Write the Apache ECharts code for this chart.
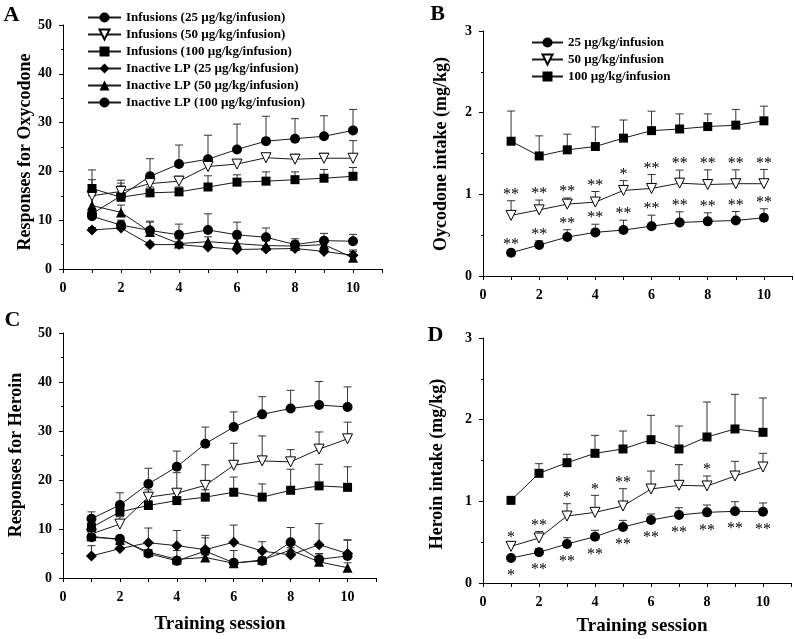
<!DOCTYPE html>
<html>
<head>
<meta charset="utf-8">
<script src="https://cdn.jsdelivr.net/npm/echarts@6/dist/echarts.min.js"></script>
<style>html,body{margin:0;padding:0;background:#fff}#c{width:795px;height:639px}</style>
</head>
<body>
<div id="c"></div>
<script>
// ---------- data ----------
const sessions = [1, 2, 3, 4, 5, 6, 7, 8, 9, 10];
const xTickLabels = [0, 2, 4, 6, 8, 10];

// Panel A: responses for oxycodone
const A_inf25 = [11.3, 15.0, 19.0, 21.5, 22.5, 24.5, 26.2, 26.7, 27.2, 28.4];
const A_inf25_err = [9.0, 3.2, 3.6, 3.9, 4.9, 5.2, 5.1, 4.1, 4.2, 4.3];
const A_inf50 = [15.0, 15.9, 17.5, 18.0, 21.0, 21.5, 22.8, 22.5, 22.7, 22.7];
const A_inf50_err = [1.2, 1.7, 0.8, 1.0, 1.0, 0.8, 0.8, 1.0, 1.0, 3.6];
const A_inf100 = [16.5, 14.7, 15.6, 15.8, 16.8, 17.8, 18.0, 18.3, 18.6, 19.0];
const A_inf100_err = [1.8, 2.3, 1.2, 1.0, 2.3, 1.5, 1.9, 1.6, 1.8, 1.8];
const A_lp25 = [8.0, 8.4, 5.0, 5.0, 4.5, 4.0, 4.1, 4.2, 3.6, 2.8];
const A_lp25_err = [0.5, 0.5, 0.5, 0.5, 0.5, 0.5, 0.5, 0.5, 0.5, 1.1];
const A_lp50 = [13.0, 11.6, 7.6, 5.2, 5.6, 5.2, 4.8, 4.7, 5.0, 2.3];
const A_lp50_err = [2.0, 1.5, 2.0, 1.0, 1.0, 1.0, 1.0, 1.0, 1.0, 1.3];
const A_lp100 = [10.8, 9.0, 7.9, 7.0, 8.0, 7.0, 6.5, 5.0, 5.8, 5.7];
const A_lp100_err = [1.5, 1.0, 1.9, 2.2, 3.3, 2.6, 1.9, 1.2, 1.5, 1.4];

// Panel B: oxycodone intake
const B_25 = [0.285, 0.38, 0.477, 0.534, 0.563, 0.61, 0.656, 0.669, 0.68, 0.713];
const B_25_err = [0.02, 0.05, 0.09, 0.10, 0.12, 0.135, 0.13, 0.105, 0.11, 0.11];
const B_50 = [0.742, 0.81, 0.88, 0.905, 1.048, 1.072, 1.137, 1.12, 1.13, 1.13];
const B_50_err = [0.18, 0.12, 0.075, 0.13, 0.12, 0.17, 0.16, 0.18, 0.17, 0.175];
const B_100 = [1.65, 1.47, 1.545, 1.586, 1.688, 1.78, 1.8, 1.83, 1.847, 1.9];
const B_100_err = [0.37, 0.246, 0.192, 0.24, 0.222, 0.238, 0.185, 0.155, 0.193, 0.18];
const B_25_stars = ['**', '**', '**', '**', '**', '**', '**', '**', '**', '**'];
const B_50_stars = ['**', '**', '**', '**', '*', '**', '**', '**', '**', '**'];

// Panel C: responses for heroin
const C_inf25 = [12.1, 14.9, 19.2, 22.7, 27.4, 30.8, 33.4, 34.6, 35.3, 34.9];
const C_inf25_err = [1.4, 2.5, 3.2, 3.2, 3.4, 3.1, 3.6, 3.7, 4.8, 4.1];
const C_inf50 = [9.0, 11.0, 16.5, 17.3, 18.9, 23.0, 23.9, 23.7, 26.3, 28.4];
const C_inf50_err = [1.0, 1.5, 1.5, 4.2, 4.2, 4.5, 5.1, 2.5, 3.5, 3.4];
const C_inf100 = [10.3, 13.5, 14.8, 15.8, 16.5, 17.5, 16.5, 17.9, 18.8, 18.5];
const C_inf100_err = [1.0, 1.0, 1.0, 1.5, 1.5, 3.1, 2.7, 4.3, 4.4, 4.2];
const C_lp25 = [4.5, 6.0, 7.2, 6.6, 5.8, 7.3, 5.5, 4.7, 6.8, 5.0];
const C_lp25_err = [2.1, 0.8, 3.0, 3.1, 2.9, 3.5, 1.9, 1.0, 4.3, 2.8];
const C_lp50 = [8.5, 7.8, 5.3, 3.8, 4.2, 3.0, 3.7, 5.7, 3.3, 2.1];
const C_lp50_err = [0.5, 0.5, 0.5, 0.5, 0.5, 0.5, 0.5, 0.5, 1.6, 1.0];
const C_lp100 = [8.3, 8.0, 5.0, 3.5, 5.5, 3.1, 3.5, 7.3, 3.8, 4.5];
const C_lp100_err = [0.5, 0.5, 0.8, 2.1, 2.7, 2.5, 0.8, 3.0, 1.2, 3.2];

// Panel D: heroin intake
const D_25 = [0.306, 0.376, 0.478, 0.567, 0.686, 0.771, 0.833, 0.865, 0.878, 0.873];
const D_25_err = [0.02, 0.045, 0.077, 0.078, 0.081, 0.074, 0.089, 0.09, 0.118, 0.107];
const D_50 = [0.449, 0.551, 0.82, 0.865, 0.943, 1.151, 1.196, 1.188, 1.31, 1.42];
const D_50_err = [0.03, 0.08, 0.151, 0.208, 0.212, 0.22, 0.253, 0.122, 0.18, 0.168];
const D_100 = [1.012, 1.343, 1.473, 1.588, 1.641, 1.755, 1.641, 1.788, 1.886, 1.845];
const D_100_err = [0.01, 0.118, 0.103, 0.22, 0.22, 0.298, 0.281, 0.428, 0.424, 0.42];
const D_25_stars = ['*', '**', '**', '**', '**', '**', '**', '**', '**', '**'];
const D_50_stars = ['*', '**', '*', '*', '**', '', '', '*', '', ''];

const legendA = ['Infusions (25 µg/kg/infusion)', 'Infusions (50 µg/kg/infusion)', 'Infusions (100 µg/kg/infusion)',
  'Inactive LP (25 µg/kg/infusion)', 'Inactive LP (50 µg/kg/infusion)', 'Inactive LP (100 µg/kg/infusion)'];
const legendB = ['25 µg/kg/infusion', '50 µg/kg/infusion', '100 µg/kg/infusion'];

// ---------- helpers ----------
const SERIF = '"Liberation Serif", "Times New Roman", serif';
const DOWN_TRI = 'path://M0,0L10,0L5,9Z';

function pairs(vals) { return sessions.map((s, i) => [s, vals[i]]); }
function triples(vals, errs) { return sessions.map((s, i) => [s, vals[i], errs[i]]); }

function lineSeries(name, idx, vals, symbol, size, hollow) {
  return {
    type: 'line', name: name, xAxisIndex: idx, yAxisIndex: idx,
    data: pairs(vals), symbol: symbol, symbolSize: size, showSymbol: true,
    lineStyle: { color: '#1a1a1a', width: 1 },
    itemStyle: hollow ? { color: '#ffffff', borderColor: '#000', borderWidth: 1 } : { color: '#000', borderWidth: 0 },
    emphasis: { disabled: true }, z: 3, animation: false
  };
}

function errSeries(idx, vals, errs) {
  return {
    type: 'custom', xAxisIndex: idx, yAxisIndex: idx, silent: true, z: 2,
    data: triples(vals, errs), encode: { x: 0, y: 1 },
    renderItem: function (params, api) {
      const x = api.value(0), v = api.value(1), e = api.value(2);
      const p0 = api.coord([x, v]);
      const p1 = api.coord([x, v + e]);
      return {
        type: 'group', children: [
          { type: 'line', shape: { x1: p0[0], y1: p0[1], x2: p1[0], y2: p1[1] }, style: { stroke: '#333', lineWidth: 1 } },
          { type: 'line', shape: { x1: p1[0] - 4, y1: p1[1], x2: p1[0] + 4, y2: p1[1] }, style: { stroke: '#333', lineWidth: 1 } }
        ]
      };
    }
  };
}

// stars: above error bar top, or below marker
function starSeries(idx, vals, errs, stars, below) {
  return {
    type: 'custom', xAxisIndex: idx, yAxisIndex: idx, silent: true, z: 4,
    data: triples(vals, errs), encode: { x: 0, y: 1 },
    renderItem: function (params, api) {
      const t = stars[params.dataIndex];
      if (!t) return null;
      const x = api.value(0), v = api.value(1), e = api.value(2);
      let p, y;
      if (below) { p = api.coord([x, v]); y = p[1] + 18; }
      else { p = api.coord([x, v + e]); y = p[1] - 6; }
      return {
        type: 'text', x: p[0], y: y,
        style: { text: t, textAlign: 'center', textVerticalAlign: 'middle', font: '16px ' + SERIF, fill: '#000' }
      };
    }
  };
}

const labelStyle = { color: '#000', fontFamily: SERIF, fontWeight: 'bold', fontSize: 14 };

function xAxis(idx) {
  return {
    type: 'value', gridIndex: idx, min: 0, max: 11, interval: 1,
    axisLine: { show: true, onZero: false, lineStyle: { color: '#000', width: 1 } },
    axisTick: { show: true, length: 4, lineStyle: { color: '#000' } },
    splitLine: { show: false },
    axisLabel: Object.assign({}, labelStyle, {
      margin: 12,
      formatter: function (v) { return xTickLabels.indexOf(v) >= 0 ? String(v) : ''; }
    })
  };
}
function yAxis(idx, max, interval) {
  return {
    type: 'value', gridIndex: idx, min: 0, max: max, interval: interval,
    axisLine: { show: true, onZero: false, lineStyle: { color: '#000', width: 1 } },
    axisTick: { show: true, length: 4, lineStyle: { color: '#000' } },
    minorTick: { show: true, splitNumber: 2, length: 2, lineStyle: { color: '#000' } },
    splitLine: { show: false },
    axisLabel: Object.assign({}, labelStyle, { margin: 11 })
  };
}

const series = [];
// Panel A (grid 0)
series.push(errSeries(0, A_inf25, A_inf25_err), errSeries(0, A_inf50, A_inf50_err), errSeries(0, A_inf100, A_inf100_err),
  errSeries(0, A_lp25, A_lp25_err), errSeries(0, A_lp50, A_lp50_err), errSeries(0, A_lp100, A_lp100_err));
series.push(
  lineSeries(legendA[0], 0, A_inf25, 'circle', 10, false),
  lineSeries(legendA[1], 0, A_inf50, DOWN_TRI, 10, true),
  lineSeries(legendA[2], 0, A_inf100, 'rect', 9, false),
  lineSeries(legendA[3], 0, A_lp25, 'diamond', 11, false),
  lineSeries(legendA[4], 0, A_lp50, 'triangle', 10, false),
  lineSeries(legendA[5], 0, A_lp100, 'circle', 10, false)
);
// Panel B (grid 1)
series.push(errSeries(1, B_25, B_25_err), errSeries(1, B_50, B_50_err), errSeries(1, B_100, B_100_err));
series.push(
  lineSeries(legendB[0], 1, B_25, 'circle', 10, false),
  lineSeries(legendB[1], 1, B_50, DOWN_TRI, 10, true),
  lineSeries(legendB[2], 1, B_100, 'rect', 9, false)
);
series.push(starSeries(1, B_25, B_25_err, B_25_stars, false), starSeries(1, B_50, B_50_err, B_50_stars, false));
// Panel C (grid 2)
series.push(errSeries(2, C_inf25, C_inf25_err), errSeries(2, C_inf50, C_inf50_err), errSeries(2, C_inf100, C_inf100_err),
  errSeries(2, C_lp25, C_lp25_err), errSeries(2, C_lp50, C_lp50_err), errSeries(2, C_lp100, C_lp100_err));
series.push(
  lineSeries('C ' + legendA[0], 2, C_inf25, 'circle', 10, false),
  lineSeries('C ' + legendA[1], 2, C_inf50, DOWN_TRI, 10, true),
  lineSeries('C ' + legendA[2], 2, C_inf100, 'rect', 9, false),
  lineSeries('C ' + legendA[3], 2, C_lp25, 'diamond', 11, false),
  lineSeries('C ' + legendA[4], 2, C_lp50, 'triangle', 10, false),
  lineSeries('C ' + legendA[5], 2, C_lp100, 'circle', 10, false)
);
// Panel D (grid 3)
series.push(errSeries(3, D_25, D_25_err), errSeries(3, D_50, D_50_err), errSeries(3, D_100, D_100_err));
series.push(
  lineSeries('D ' + legendB[0], 3, D_25, 'circle', 10, false),
  lineSeries('D ' + legendB[1], 3, D_50, DOWN_TRI, 10, true),
  lineSeries('D ' + legendB[2], 3, D_100, 'rect', 9, false)
);
series.push(starSeries(3, D_25, D_25_err, D_25_stars, true), starSeries(3, D_50, D_50_err, D_50_stars, false));

function gtext(text, x, y, size, rotate) {
  return {
    type: 'text', x: x, y: y, rotation: rotate ? Math.PI / 2 : 0,
    style: { text: text, textAlign: 'center', textVerticalAlign: 'middle', font: 'bold ' + size + 'px ' + SERIF, fill: '#000' }
  };
}

const legendText = { color: '#000', fontFamily: SERIF, fontWeight: 'bold', fontSize: 13 };

const option = {
  animation: false,
  backgroundColor: '#fff',
  grid: [
    { left: 63, top: 25, width: 319, height: 244 },
    { left: 483, top: 31, width: 309, height: 245 },
    { left: 63, top: 333, width: 313, height: 245 },
    { left: 483, top: 338, width: 308, height: 245 }
  ],
  xAxis: [xAxis(0), xAxis(1), xAxis(2), xAxis(3)],
  yAxis: [yAxis(0, 50, 10), yAxis(1, 3, 1), yAxis(2, 50, 10), yAxis(3, 3, 1)],
  legend: [
    { data: legendA, orient: 'vertical', left: 82, top: 6, itemWidth: 33, itemHeight: 12.5, itemGap: 4,
      textStyle: legendText, selectedMode: false },
    { data: legendB, orient: 'vertical', left: 526, top: 31, itemWidth: 31, itemHeight: 12.5, itemGap: 4,
      textStyle: legendText, selectedMode: false }
  ],
  graphic: [
    gtext('A', 11.5, 15, 22, false),
    gtext('B', 437.5, 14, 22, false),
    gtext('C', 12.5, 320, 22, false),
    gtext('D', 435.5, 335, 22, false),
    gtext('Responses for Oxycodone', 25, 152, 18, true),
    gtext('Oycodone intake (mg/kg)', 441, 154, 18, true),
    gtext('Responses for Heroin', 16, 455, 18, true),
    gtext('Heroin intake (mg/kg)', 437, 464, 18, true),
    gtext('Training session', 220, 624, 19, false),
    gtext('Training session', 642, 626, 19, false)
  ],
  series: series
};

const chart = echarts.init(document.getElementById('c'), null, { renderer: 'canvas' });
chart.setOption(option);
</script>
</body>
</html>
